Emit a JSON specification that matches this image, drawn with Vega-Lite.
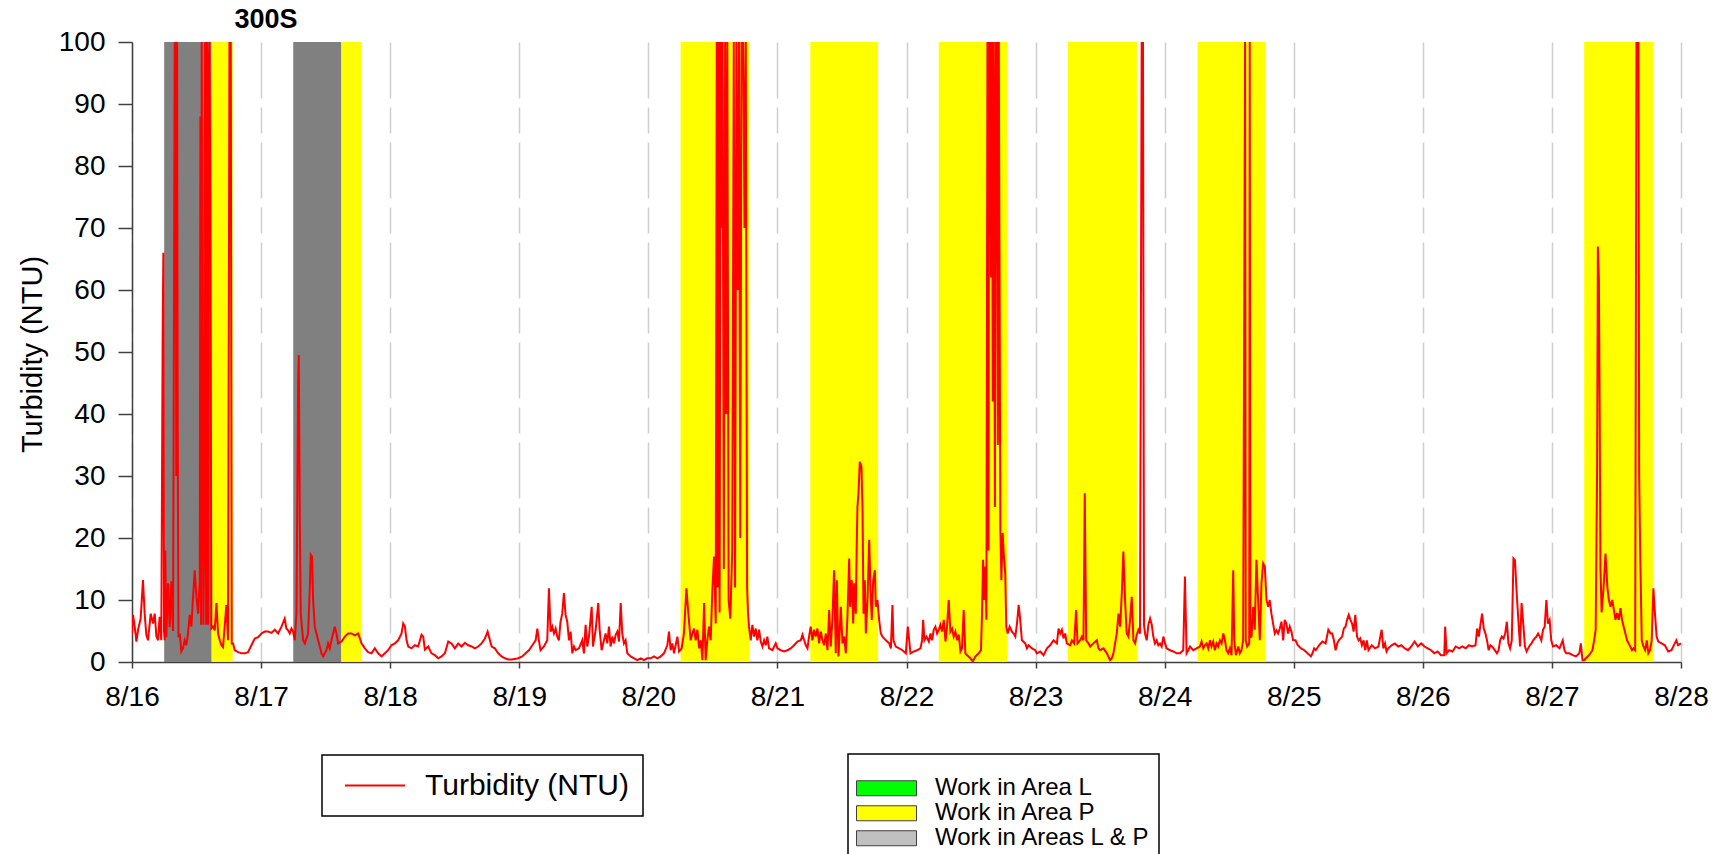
{
  "$schema": "https://vega.github.io/schema/vega-lite/v6.json",
  "width": 1549,
  "height": 620,
  "autosize": "none",
  "padding": {"left": 132, "top": 42, "right": 41, "bottom": 192},
  "background": "white",
  "config": {"font": "Liberation Sans", "view": {"stroke": null}},
  "title": {"text": "300S", "anchor": "start", "align": "center", "dx": 134, "dy": 11, "frame": "group", "fontSize": 27, "fontWeight": "bold", "color": "black", "offset": 5, "font": "Liberation Sans"},
  "datasets": {
    "bands": [
      {"start": 0.25, "end": 0.615, "area": "Work in Areas L & P"},
      {"start": 0.615, "end": 0.78, "area": "Work in Area P"},
      {"start": 1.25, "end": 1.62, "area": "Work in Areas L & P"},
      {"start": 1.62, "end": 1.78, "area": "Work in Area P"},
      {"start": 4.25, "end": 4.78, "area": "Work in Area P"},
      {"start": 5.255, "end": 5.78, "area": "Work in Area P"},
      {"start": 6.25, "end": 6.78, "area": "Work in Area P"},
      {"start": 7.25, "end": 7.785, "area": "Work in Area P"},
      {"start": 8.255, "end": 8.782, "area": "Work in Area P"},
      {"start": 11.25, "end": 11.783, "area": "Work in Area P"}
    ]
  },
  "layer": [
    {
      "data": {"name": "bands"},
      "mark": {"type": "rect"},
      "encoding": {
        "x": {"field": "start", "type": "quantitative", "scale": {"domain": [0, 12], "nice": false, "zero": false},
          "axis": {"title": null, "values": [0,1,2,3,4,5,6,7,8,9,10,11,12], "labelExpr": "'8/' + (16 + datum.value)", "grid": true, "gridDash": [56, 9, 26, 9], "gridColor": "#cfcfcf", "gridWidth": 1.5, "domainColor": "#404040", "domainWidth": 1.5, "tickColor": "#404040", "tickSize": 6, "tickWidth": 1.5, "labelFontSize": 28, "labelColor": "black", "labelPadding": 15, "labelFlush": false, "labelFont": "Liberation Sans"}},
        "x2": {"field": "end"},
        "fill": {"field": "area", "type": "nominal",
          "scale": {"domain": ["Work in Area L", "Work in Area P", "Work in Areas L & P"], "range": ["#00ff00", "#ffff00", "#c0c0c0"]},
          "legend": {"orient": "none", "legendX": 716, "legendY": 712, "title": " ", "titleFontSize": 15, "titlePadding": 0,
            "symbolType": "M-1,-0.25H1V0.25H-1Z", "symbolSize": 3600, "symbolStrokeColor": "#404040", "symbolStrokeWidth": 1, "symbolOpacity": 1,
            "labelFontSize": 24, "labelColor": "black", "labelOffset": 18, "labelLimit": 600, "labelFont": "Liberation Sans", "padding": 8, "rowPadding": 0, "clipHeight": 22.5,
            "strokeColor": "black", "fillColor": "white",
            "encode": {"legend": {"update": {"strokeWidth": {"value": 1.5}}}}}}
      }
    },
    {
      "data": {"name": "bands"},
      "transform": [{"filter": "datum.area === 'Work in Areas L & P'"}],
      "mark": {"type": "rect", "color": "#808080"},
      "encoding": {
        "x": {"field": "start", "type": "quantitative"},
        "x2": {"field": "end"}
      }
    },
    {
      "data": {"values": [
        {"day":0.000,"ntu":4.6},{"day":0.008,"ntu":7.6},{"day":0.021,"ntu":5.7},{"day":0.034,"ntu":3.3},{"day":0.047,"ntu":5.2},{"day":0.067,"ntu":7.0},{"day":0.085,"ntu":13.2},{"day":0.098,"ntu":7.8},{"day":0.111,"ntu":4.4},{"day":0.124,"ntu":3.5},{"day":0.145,"ntu":7.8},{"day":0.163,"ntu":6.2},{"day":0.176,"ntu":7.8},{"day":0.189,"ntu":4.1},{"day":0.202,"ntu":3.5},{"day":0.214,"ntu":7.3},{"day":0.227,"ntu":3.5},{"day":0.238,"ntu":55},{"day":0.243,"ntu":66},{"day":0.248,"ntu":5},{"day":0.253,"ntu":3.5},{"day":0.258,"ntu":18},{"day":0.266,"ntu":4},{"day":0.279,"ntu":12.7},{"day":0.292,"ntu":5.6},{"day":0.305,"ntu":13},{"day":0.318,"ntu":5},{"day":0.331,"ntu":100},{"day":0.337,"ntu":100},{"day":0.343,"ntu":30},{"day":0.349,"ntu":100},{"day":0.354,"ntu":37},{"day":0.360,"ntu":4},{"day":0.370,"ntu":4.6},{"day":0.382,"ntu":1.7},{"day":0.395,"ntu":2.2},{"day":0.408,"ntu":3.5},{"day":0.421,"ntu":2.7},{"day":0.434,"ntu":4.6},{"day":0.447,"ntu":7.6},{"day":0.460,"ntu":5.7},{"day":0.473,"ntu":10.5},{"day":0.486,"ntu":14.8},{"day":0.499,"ntu":10.5},{"day":0.512,"ntu":7.8},{"day":0.525,"ntu":13},{"day":0.530,"ntu":88},{"day":0.535,"ntu":6},{"day":0.540,"ntu":100},{"day":0.545,"ntu":57},{"day":0.553,"ntu":6},{"day":0.558,"ntu":16.5},{"day":0.566,"ntu":100},{"day":0.574,"ntu":6},{"day":0.581,"ntu":100},{"day":0.589,"ntu":6},{"day":0.594,"ntu":96},{"day":0.600,"ntu":100},{"day":0.607,"ntu":74},{"day":0.615,"ntu":5.4},{"day":0.628,"ntu":5.7},{"day":0.641,"ntu":5.1},{"day":0.654,"ntu":9.5},{"day":0.667,"ntu":4.6},{"day":0.680,"ntu":3.5},{"day":0.693,"ntu":2.7},{"day":0.705,"ntu":2.4},{"day":0.718,"ntu":5.7},{"day":0.731,"ntu":9.2},{"day":0.744,"ntu":3.5},{"day":0.755,"ntu":100},{"day":0.765,"ntu":100},{"day":0.773,"ntu":3},{"day":0.783,"ntu":3},{"day":0.796,"ntu":1.9},{"day":0.822,"ntu":1.6},{"day":0.848,"ntu":1.4},{"day":0.873,"ntu":1.4},{"day":0.899,"ntu":1.6},{"day":0.925,"ntu":2.7},{"day":0.951,"ntu":3.8},{"day":0.977,"ntu":4.0},
        {"day":1.003,"ntu":4.6},{"day":1.028,"ntu":4.9},{"day":1.054,"ntu":4.9},{"day":1.080,"ntu":4.7},{"day":1.106,"ntu":5.2},{"day":1.132,"ntu":4.6},{"day":1.158,"ntu":5.7},{"day":1.183,"ntu":7.0},{"day":1.196,"ntu":5.4},{"day":1.209,"ntu":5.1},{"day":1.222,"ntu":4.6},{"day":1.235,"ntu":5.4},{"day":1.248,"ntu":4.9},{"day":1.261,"ntu":3.5},{"day":1.274,"ntu":7.8},{"day":1.287,"ntu":45},{"day":1.292,"ntu":49.5},{"day":1.300,"ntu":23},{"day":1.307,"ntu":7.8},{"day":1.326,"ntu":3.5},{"day":1.339,"ntu":3.0},{"day":1.364,"ntu":4.6},{"day":1.377,"ntu":11.6},{"day":1.385,"ntu":17.3},{"day":1.395,"ntu":17},{"day":1.403,"ntu":10},{"day":1.416,"ntu":5.7},{"day":1.429,"ntu":4.6},{"day":1.442,"ntu":3.5},{"day":1.455,"ntu":2.5},{"day":1.468,"ntu":1.4},{"day":1.481,"ntu":0.9},{"day":1.494,"ntu":1.4},{"day":1.506,"ntu":1.9},{"day":1.519,"ntu":3.0},{"day":1.532,"ntu":2.2},{"day":1.545,"ntu":3.5},{"day":1.558,"ntu":4.6},{"day":1.571,"ntu":5.7},{"day":1.584,"ntu":4.6},{"day":1.597,"ntu":3.0},{"day":1.623,"ntu":3.3},{"day":1.649,"ntu":4.1},{"day":1.674,"ntu":4.6},{"day":1.700,"ntu":4.6},{"day":1.726,"ntu":4.3},{"day":1.752,"ntu":4.6},{"day":1.778,"ntu":3.0},{"day":1.804,"ntu":2.2},{"day":1.829,"ntu":1.6},{"day":1.855,"ntu":1.4},{"day":1.881,"ntu":2.2},{"day":1.907,"ntu":1.4},{"day":1.933,"ntu":0.9},{"day":1.959,"ntu":1.4},{"day":1.984,"ntu":1.9},
        {"day":2.010,"ntu":2.7},{"day":2.036,"ntu":3.0},{"day":2.062,"ntu":3.5},{"day":2.088,"ntu":4.6},{"day":2.101,"ntu":6.2},{"day":2.114,"ntu":5.7},{"day":2.127,"ntu":3.5},{"day":2.140,"ntu":2.5},{"day":2.165,"ntu":2.2},{"day":2.191,"ntu":2.7},{"day":2.217,"ntu":2.5},{"day":2.243,"ntu":4.4},{"day":2.256,"ntu":4.1},{"day":2.269,"ntu":2.0},{"day":2.295,"ntu":2.5},{"day":2.320,"ntu":1.4},{"day":2.346,"ntu":1.1},{"day":2.372,"ntu":0.6},{"day":2.398,"ntu":0.9},{"day":2.424,"ntu":1.4},{"day":2.450,"ntu":3.3},{"day":2.475,"ntu":3.0},{"day":2.501,"ntu":2.2},{"day":2.527,"ntu":3.0},{"day":2.553,"ntu":2.5},{"day":2.579,"ntu":3.1},{"day":2.605,"ntu":2.7},{"day":2.630,"ntu":2.5},{"day":2.656,"ntu":2.2},{"day":2.682,"ntu":2.5},{"day":2.708,"ntu":3.0},{"day":2.734,"ntu":3.8},{"day":2.755,"ntu":4.9},{"day":2.773,"ntu":3.5},{"day":2.786,"ntu":2.5},{"day":2.811,"ntu":2.2},{"day":2.837,"ntu":1.4},{"day":2.863,"ntu":0.9},{"day":2.889,"ntu":0.6},{"day":2.915,"ntu":0.4},{"day":2.941,"ntu":0.4},{"day":2.966,"ntu":0.5},{"day":2.992,"ntu":0.6},
        {"day":3.023,"ntu":0.9},{"day":3.049,"ntu":1.4},{"day":3.075,"ntu":1.9},{"day":3.101,"ntu":2.7},{"day":3.127,"ntu":3.5},{"day":3.140,"ntu":5.4},{"day":3.152,"ntu":3.5},{"day":3.165,"ntu":1.9},{"day":3.191,"ntu":2.5},{"day":3.217,"ntu":3.5},{"day":3.230,"ntu":11.9},{"day":3.243,"ntu":4.9},{"day":3.256,"ntu":5.7},{"day":3.269,"ntu":4.6},{"day":3.282,"ntu":5.4},{"day":3.295,"ntu":4.1},{"day":3.307,"ntu":3.5},{"day":3.320,"ntu":6.5},{"day":3.333,"ntu":7.8},{"day":3.346,"ntu":11.1},{"day":3.359,"ntu":7.6},{"day":3.372,"ntu":6.5},{"day":3.385,"ntu":3.5},{"day":3.398,"ntu":4.9},{"day":3.411,"ntu":1.4},{"day":3.424,"ntu":2.5},{"day":3.437,"ntu":1.9},{"day":3.463,"ntu":2.2},{"day":3.488,"ntu":3.5},{"day":3.501,"ntu":1.4},{"day":3.514,"ntu":6.0},{"day":3.527,"ntu":2.5},{"day":3.540,"ntu":4.1},{"day":3.561,"ntu":8.9},{"day":3.571,"ntu":2.5},{"day":3.592,"ntu":5.2},{"day":3.612,"ntu":9.5},{"day":3.623,"ntu":5.2},{"day":3.638,"ntu":1.9},{"day":3.656,"ntu":3.5},{"day":3.669,"ntu":4.6},{"day":3.682,"ntu":3.0},{"day":3.695,"ntu":5.7},{"day":3.708,"ntu":2.5},{"day":3.721,"ntu":4.1},{"day":3.734,"ntu":3.0},{"day":3.747,"ntu":4.4},{"day":3.760,"ntu":4.9},{"day":3.773,"ntu":3.3},{"day":3.786,"ntu":9.5},{"day":3.798,"ntu":4.6},{"day":3.811,"ntu":3.0},{"day":3.824,"ntu":3.5},{"day":3.837,"ntu":1.4},{"day":3.863,"ntu":0.9},{"day":3.889,"ntu":0.6},{"day":3.915,"ntu":0.3},{"day":3.941,"ntu":0.6},{"day":3.966,"ntu":0.3},{"day":3.992,"ntu":0.6},
        {"day":4.018,"ntu":0.6},{"day":4.044,"ntu":0.9},{"day":4.070,"ntu":0.6},{"day":4.096,"ntu":0.9},{"day":4.121,"ntu":1.4},{"day":4.147,"ntu":2.7},{"day":4.160,"ntu":4.9},{"day":4.173,"ntu":1.9},{"day":4.186,"ntu":3.0},{"day":4.199,"ntu":1.4},{"day":4.225,"ntu":4.1},{"day":4.238,"ntu":1.7},{"day":4.258,"ntu":2.2},{"day":4.276,"ntu":4.6},{"day":4.295,"ntu":11.9},{"day":4.310,"ntu":7.8},{"day":4.328,"ntu":3.5},{"day":4.341,"ntu":4.6},{"day":4.354,"ntu":5.4},{"day":4.367,"ntu":3.5},{"day":4.380,"ntu":5.2},{"day":4.393,"ntu":2.2},{"day":4.406,"ntu":3.5},{"day":4.419,"ntu":0.3},{"day":4.432,"ntu":9.5},{"day":4.444,"ntu":0.3},{"day":4.457,"ntu":3.5},{"day":4.470,"ntu":5.7},{"day":4.483,"ntu":3.5},{"day":4.496,"ntu":11.6},{"day":4.509,"ntu":17},{"day":4.522,"ntu":6.2},{"day":4.530,"ntu":100},{"day":4.537,"ntu":12},{"day":4.545,"ntu":100},{"day":4.552,"ntu":8},{"day":4.560,"ntu":100},{"day":4.567,"ntu":70},{"day":4.575,"ntu":100},{"day":4.585,"ntu":15},{"day":4.595,"ntu":100},{"day":4.603,"ntu":40},{"day":4.612,"ntu":100},{"day":4.622,"ntu":10},{"day":4.635,"ntu":7},{"day":4.650,"ntu":18},{"day":4.662,"ntu":100},{"day":4.672,"ntu":12},{"day":4.682,"ntu":100},{"day":4.692,"ntu":60},{"day":4.702,"ntu":100},{"day":4.712,"ntu":20},{"day":4.722,"ntu":100},{"day":4.735,"ntu":100},{"day":4.745,"ntu":70},{"day":4.755,"ntu":100},{"day":4.765,"ntu":12},{"day":4.772,"ntu":8},{"day":4.780,"ntu":5.7},{"day":4.793,"ntu":3.5},{"day":4.806,"ntu":6.0},{"day":4.819,"ntu":4.1},{"day":4.832,"ntu":5.4},{"day":4.845,"ntu":3.5},{"day":4.858,"ntu":5.2},{"day":4.871,"ntu":3.3},{"day":4.884,"ntu":2.5},{"day":4.897,"ntu":3.5},{"day":4.910,"ntu":2.7},{"day":4.922,"ntu":4.1},{"day":4.935,"ntu":2.2},{"day":4.961,"ntu":1.9},{"day":4.987,"ntu":3.0},
        {"day":5.000,"ntu":2.2},{"day":5.026,"ntu":1.9},{"day":5.052,"ntu":1.7},{"day":5.078,"ntu":1.9},{"day":5.103,"ntu":2.2},{"day":5.129,"ntu":2.7},{"day":5.155,"ntu":3.3},{"day":5.181,"ntu":3.5},{"day":5.194,"ntu":4.4},{"day":5.207,"ntu":3.5},{"day":5.220,"ntu":2.7},{"day":5.233,"ntu":2.2},{"day":5.245,"ntu":4.1},{"day":5.258,"ntu":5.7},{"day":5.271,"ntu":3.5},{"day":5.284,"ntu":5.2},{"day":5.297,"ntu":4.1},{"day":5.310,"ntu":5.4},{"day":5.323,"ntu":3.0},{"day":5.336,"ntu":4.9},{"day":5.349,"ntu":3.5},{"day":5.362,"ntu":2.7},{"day":5.375,"ntu":4.6},{"day":5.388,"ntu":1.9},{"day":5.401,"ntu":8.4},{"day":5.413,"ntu":2.5},{"day":5.426,"ntu":6.8},{"day":5.439,"ntu":14.8},{"day":5.452,"ntu":1.4},{"day":5.460,"ntu":13.2},{"day":5.473,"ntu":0.9},{"day":5.483,"ntu":5.2},{"day":5.491,"ntu":8.9},{"day":5.504,"ntu":3.0},{"day":5.517,"ntu":4.1},{"day":5.530,"ntu":1.4},{"day":5.543,"ntu":7.6},{"day":5.556,"ntu":16.7},{"day":5.563,"ntu":8.9},{"day":5.576,"ntu":13.2},{"day":5.587,"ntu":6.2},{"day":5.594,"ntu":12.7},{"day":5.607,"ntu":7.8},{"day":5.615,"ntu":19.7},{"day":5.620,"ntu":25},{"day":5.628,"ntu":27.2},{"day":5.638,"ntu":32.3},{"day":5.651,"ntu":31.5},{"day":5.659,"ntu":25},{"day":5.667,"ntu":7.8},{"day":5.677,"ntu":13.2},{"day":5.685,"ntu":4.6},{"day":5.698,"ntu":10},{"day":5.711,"ntu":19.7},{"day":5.721,"ntu":11.6},{"day":5.731,"ntu":6.8},{"day":5.742,"ntu":13.2},{"day":5.755,"ntu":14.8},{"day":5.762,"ntu":8.9},{"day":5.775,"ntu":10},{"day":5.788,"ntu":6.8},{"day":5.801,"ntu":4.6},{"day":5.814,"ntu":4.1},{"day":5.840,"ntu":3.5},{"day":5.866,"ntu":3.0},{"day":5.879,"ntu":2.2},{"day":5.891,"ntu":9.2},{"day":5.899,"ntu":3.5},{"day":5.917,"ntu":2.5},{"day":5.943,"ntu":2.2},{"day":5.969,"ntu":1.9},{"day":5.995,"ntu":1.4},
        {"day":6.010,"ntu":5.7},{"day":6.021,"ntu":3.5},{"day":6.031,"ntu":1.4},{"day":6.057,"ntu":1.7},{"day":6.082,"ntu":1.9},{"day":6.108,"ntu":2.2},{"day":6.121,"ntu":3.5},{"day":6.129,"ntu":6.8},{"day":6.139,"ntu":3.5},{"day":6.155,"ntu":4.1},{"day":6.173,"ntu":3.3},{"day":6.186,"ntu":4.6},{"day":6.198,"ntu":3.5},{"day":6.211,"ntu":5.2},{"day":6.224,"ntu":5.7},{"day":6.237,"ntu":4.6},{"day":6.250,"ntu":5.2},{"day":6.263,"ntu":6.0},{"day":6.276,"ntu":4.9},{"day":6.289,"ntu":6.8},{"day":6.302,"ntu":3.3},{"day":6.314,"ntu":5.7},{"day":6.327,"ntu":10},{"day":6.340,"ntu":4.9},{"day":6.353,"ntu":5.4},{"day":6.366,"ntu":4.1},{"day":6.379,"ntu":4.9},{"day":6.392,"ntu":3.5},{"day":6.405,"ntu":4.4},{"day":6.418,"ntu":1.7},{"day":6.430,"ntu":2.2},{"day":6.443,"ntu":8.4},{"day":6.456,"ntu":1.4},{"day":6.469,"ntu":1.1},{"day":6.495,"ntu":0.6},{"day":6.513,"ntu":0.1},{"day":6.534,"ntu":0.9},{"day":6.559,"ntu":1.4},{"day":6.577,"ntu":1.9},{"day":6.585,"ntu":7.8},{"day":6.593,"ntu":16.5},{"day":6.603,"ntu":10},{"day":6.611,"ntu":15.4},{"day":6.619,"ntu":6.8},{"day":6.627,"ntu":100},{"day":6.635,"ntu":18},{"day":6.640,"ntu":100},{"day":6.648,"ntu":100},{"day":6.655,"ntu":62},{"day":6.662,"ntu":100},{"day":6.668,"ntu":42},{"day":6.675,"ntu":100},{"day":6.685,"ntu":25},{"day":6.692,"ntu":100},{"day":6.700,"ntu":100},{"day":6.708,"ntu":35},{"day":6.715,"ntu":100},{"day":6.727,"ntu":21.6},{"day":6.735,"ntu":13.2},{"day":6.745,"ntu":20.8},{"day":6.753,"ntu":17.5},{"day":6.765,"ntu":14.3},{"day":6.773,"ntu":5.7},{"day":6.784,"ntu":4.6},{"day":6.799,"ntu":5.7},{"day":6.817,"ntu":4.9},{"day":6.830,"ntu":4.6},{"day":6.843,"ntu":4.1},{"day":6.856,"ntu":6.2},{"day":6.869,"ntu":9.2},{"day":6.881,"ntu":6.8},{"day":6.894,"ntu":3.5},{"day":6.920,"ntu":3.0},{"day":6.933,"ntu":2.2},{"day":6.946,"ntu":2.7},{"day":6.972,"ntu":2.2},{"day":6.997,"ntu":1.9},
        {"day":7.010,"ntu":1.4},{"day":7.036,"ntu":1.7},{"day":7.062,"ntu":1.1},{"day":7.088,"ntu":2.2},{"day":7.113,"ntu":2.7},{"day":7.139,"ntu":3.5},{"day":7.165,"ntu":3.0},{"day":7.178,"ntu":5.4},{"day":7.191,"ntu":4.6},{"day":7.204,"ntu":5.2},{"day":7.216,"ntu":3.8},{"day":7.229,"ntu":4.6},{"day":7.242,"ntu":3.0},{"day":7.268,"ntu":2.7},{"day":7.281,"ntu":3.5},{"day":7.299,"ntu":3.0},{"day":7.314,"ntu":8.4},{"day":7.325,"ntu":3.0},{"day":7.345,"ntu":3.5},{"day":7.358,"ntu":4.1},{"day":7.371,"ntu":3.5},{"day":7.381,"ntu":27.2},{"day":7.392,"ntu":3.5},{"day":7.410,"ntu":3.0},{"day":7.423,"ntu":2.5},{"day":7.448,"ntu":3.0},{"day":7.474,"ntu":3.5},{"day":7.487,"ntu":2.2},{"day":7.500,"ntu":1.9},{"day":7.526,"ntu":2.2},{"day":7.552,"ntu":1.4},{"day":7.577,"ntu":0.3},{"day":7.590,"ntu":0.6},{"day":7.603,"ntu":1.4},{"day":7.616,"ntu":3.0},{"day":7.629,"ntu":4.6},{"day":7.642,"ntu":7.8},{"day":7.655,"ntu":5.7},{"day":7.668,"ntu":11.1},{"day":7.680,"ntu":17.8},{"day":7.693,"ntu":10},{"day":7.706,"ntu":4.6},{"day":7.719,"ntu":4.1},{"day":7.732,"ntu":6.8},{"day":7.745,"ntu":10.5},{"day":7.758,"ntu":3.5},{"day":7.771,"ntu":3.0},{"day":7.784,"ntu":4.4},{"day":7.796,"ntu":5.2},{"day":7.809,"ntu":4.6},{"day":7.822,"ntu":100},{"day":7.832,"ntu":100},{"day":7.840,"ntu":6},{"day":7.848,"ntu":4.6},{"day":7.861,"ntu":3.5},{"day":7.874,"ntu":6.0},{"day":7.887,"ntu":7.0},{"day":7.900,"ntu":6.0},{"day":7.912,"ntu":4.1},{"day":7.925,"ntu":3.0},{"day":7.938,"ntu":3.5},{"day":7.951,"ntu":2.7},{"day":7.964,"ntu":3.0},{"day":7.977,"ntu":2.5},{"day":7.990,"ntu":4.1},
        {"day":8.003,"ntu":3.0},{"day":8.015,"ntu":2.2},{"day":8.041,"ntu":1.9},{"day":8.067,"ntu":1.7},{"day":8.093,"ntu":1.4},{"day":8.119,"ntu":1.4},{"day":8.144,"ntu":1.9},{"day":8.157,"ntu":13.8},{"day":8.170,"ntu":1.4},{"day":8.183,"ntu":1.9},{"day":8.196,"ntu":2.5},{"day":8.222,"ntu":1.9},{"day":8.247,"ntu":2.2},{"day":8.273,"ntu":2.5},{"day":8.286,"ntu":3.3},{"day":8.299,"ntu":2.2},{"day":8.312,"ntu":2.7},{"day":8.325,"ntu":3.0},{"day":8.338,"ntu":2.2},{"day":8.351,"ntu":3.5},{"day":8.363,"ntu":2.5},{"day":8.376,"ntu":3.3},{"day":8.389,"ntu":1.9},{"day":8.402,"ntu":3.0},{"day":8.415,"ntu":2.5},{"day":8.428,"ntu":3.5},{"day":8.441,"ntu":3.0},{"day":8.454,"ntu":4.6},{"day":8.467,"ntu":3.5},{"day":8.479,"ntu":1.9},{"day":8.492,"ntu":1.4},{"day":8.505,"ntu":2.2},{"day":8.518,"ntu":1.1},{"day":8.531,"ntu":14.8},{"day":8.539,"ntu":3.5},{"day":8.552,"ntu":1.1},{"day":8.570,"ntu":2.5},{"day":8.582,"ntu":1.4},{"day":8.595,"ntu":1.9},{"day":8.608,"ntu":3.5},{"day":8.623,"ntu":100},{"day":8.628,"ntu":3.5},{"day":8.639,"ntu":2.5},{"day":8.655,"ntu":3.0},{"day":8.659,"ntu":100},{"day":8.664,"ntu":4},{"day":8.673,"ntu":4.1},{"day":8.686,"ntu":8.9},{"day":8.698,"ntu":5.2},{"day":8.711,"ntu":16.5},{"day":8.724,"ntu":10},{"day":8.737,"ntu":3.5},{"day":8.750,"ntu":12.7},{"day":8.763,"ntu":15.9},{"day":8.776,"ntu":15.4},{"day":8.789,"ntu":10},{"day":8.802,"ntu":8.9},{"day":8.814,"ntu":10},{"day":8.827,"ntu":7.8},{"day":8.840,"ntu":6.2},{"day":8.853,"ntu":4.6},{"day":8.866,"ntu":5.1},{"day":8.879,"ntu":4.6},{"day":8.892,"ntu":5.4},{"day":8.905,"ntu":6.5},{"day":8.918,"ntu":3.5},{"day":8.930,"ntu":6.8},{"day":8.943,"ntu":6.2},{"day":8.956,"ntu":4.6},{"day":8.969,"ntu":5.7},{"day":8.982,"ntu":4.9},{"day":8.995,"ntu":3.5},
        {"day":9.013,"ntu":3.5},{"day":9.031,"ntu":2.7},{"day":9.056,"ntu":2.2},{"day":9.082,"ntu":1.9},{"day":9.107,"ntu":1.4},{"day":9.133,"ntu":0.9},{"day":9.145,"ntu":1.4},{"day":9.158,"ntu":2.2},{"day":9.171,"ntu":1.9},{"day":9.196,"ntu":2.7},{"day":9.222,"ntu":3.3},{"day":9.247,"ntu":3.0},{"day":9.268,"ntu":5.2},{"day":9.286,"ntu":4.6},{"day":9.298,"ntu":4.6},{"day":9.311,"ntu":3.5},{"day":9.324,"ntu":1.9},{"day":9.337,"ntu":3.0},{"day":9.349,"ntu":3.5},{"day":9.375,"ntu":4.1},{"day":9.388,"ntu":5.4},{"day":9.401,"ntu":5.7},{"day":9.413,"ntu":6.8},{"day":9.426,"ntu":7.6},{"day":9.439,"ntu":6.8},{"day":9.452,"ntu":6.2},{"day":9.464,"ntu":4.9},{"day":9.477,"ntu":7.6},{"day":9.490,"ntu":4.1},{"day":9.503,"ntu":3.5},{"day":9.515,"ntu":3.8},{"day":9.528,"ntu":2.7},{"day":9.541,"ntu":3.5},{"day":9.554,"ntu":1.9},{"day":9.566,"ntu":3.5},{"day":9.579,"ntu":1.9},{"day":9.605,"ntu":2.7},{"day":9.630,"ntu":2.2},{"day":9.656,"ntu":2.5},{"day":9.681,"ntu":5.2},{"day":9.694,"ntu":2.2},{"day":9.707,"ntu":3.0},{"day":9.719,"ntu":1.7},{"day":9.732,"ntu":2.2},{"day":9.758,"ntu":2.7},{"day":9.783,"ntu":3.0},{"day":9.809,"ntu":2.5},{"day":9.834,"ntu":2.7},{"day":9.860,"ntu":2.2},{"day":9.885,"ntu":1.9},{"day":9.911,"ntu":2.5},{"day":9.936,"ntu":3.3},{"day":9.962,"ntu":2.5},{"day":9.987,"ntu":3.0},
        {"day":10.013,"ntu":2.5},{"day":10.038,"ntu":2.2},{"day":10.064,"ntu":1.9},{"day":10.089,"ntu":1.4},{"day":10.115,"ntu":1.7},{"day":10.140,"ntu":1.1},{"day":10.166,"ntu":1.1},{"day":10.173,"ntu":5.7},{"day":10.184,"ntu":1.4},{"day":10.204,"ntu":1.9},{"day":10.230,"ntu":1.7},{"day":10.255,"ntu":2.5},{"day":10.281,"ntu":2.2},{"day":10.306,"ntu":2.5},{"day":10.332,"ntu":2.2},{"day":10.357,"ntu":2.7},{"day":10.383,"ntu":2.5},{"day":10.408,"ntu":2.7},{"day":10.421,"ntu":5.4},{"day":10.434,"ntu":4.1},{"day":10.446,"ntu":6.0},{"day":10.459,"ntu":7.8},{"day":10.472,"ntu":5.4},{"day":10.485,"ntu":4.6},{"day":10.497,"ntu":3.5},{"day":10.510,"ntu":1.9},{"day":10.523,"ntu":2.7},{"day":10.536,"ntu":2.5},{"day":10.548,"ntu":2.2},{"day":10.574,"ntu":1.4},{"day":10.587,"ntu":1.9},{"day":10.599,"ntu":3.5},{"day":10.612,"ntu":4.1},{"day":10.625,"ntu":3.8},{"day":10.638,"ntu":4.6},{"day":10.651,"ntu":6.5},{"day":10.663,"ntu":3.0},{"day":10.676,"ntu":2.2},{"day":10.689,"ntu":3.5},{"day":10.702,"ntu":16.7},{"day":10.714,"ntu":16.4},{"day":10.727,"ntu":11.1},{"day":10.740,"ntu":6.8},{"day":10.753,"ntu":2.5},{"day":10.765,"ntu":9.5},{"day":10.778,"ntu":6.2},{"day":10.791,"ntu":2.5},{"day":10.804,"ntu":1.7},{"day":10.816,"ntu":2.2},{"day":10.829,"ntu":2.7},{"day":10.842,"ntu":3.0},{"day":10.855,"ntu":3.5},{"day":10.867,"ntu":3.8},{"day":10.880,"ntu":4.1},{"day":10.893,"ntu":4.6},{"day":10.906,"ntu":4.1},{"day":10.918,"ntu":3.5},{"day":10.931,"ntu":5.2},{"day":10.944,"ntu":5.7},{"day":10.957,"ntu":10},{"day":10.969,"ntu":6.2},{"day":10.982,"ntu":6.8},{"day":10.995,"ntu":3.5},
        {"day":11.008,"ntu":2.5},{"day":11.033,"ntu":2.7},{"day":11.059,"ntu":2.2},{"day":11.084,"ntu":3.5},{"day":11.097,"ntu":1.9},{"day":11.110,"ntu":1.4},{"day":11.135,"ntu":1.4},{"day":11.161,"ntu":1.1},{"day":11.186,"ntu":0.9},{"day":11.212,"ntu":1.4},{"day":11.224,"ntu":3.0},{"day":11.237,"ntu":0.3},{"day":11.250,"ntu":0.3},{"day":11.263,"ntu":0.6},{"day":11.288,"ntu":1.1},{"day":11.314,"ntu":1.9},{"day":11.327,"ntu":3.5},{"day":11.339,"ntu":5.2},{"day":11.350,"ntu":31},{"day":11.356,"ntu":67},{"day":11.364,"ntu":61.5},{"day":11.370,"ntu":40},{"day":11.376,"ntu":15},{"day":11.385,"ntu":8},{"day":11.400,"ntu":12},{"day":11.415,"ntu":17.5},{"day":11.429,"ntu":12.2},{"day":11.441,"ntu":10},{"day":11.454,"ntu":8.9},{"day":11.467,"ntu":10},{"day":11.480,"ntu":8.4},{"day":11.492,"ntu":6.8},{"day":11.505,"ntu":7.9},{"day":11.518,"ntu":6.8},{"day":11.531,"ntu":8.7},{"day":11.543,"ntu":6.8},{"day":11.556,"ntu":5.7},{"day":11.569,"ntu":4.6},{"day":11.582,"ntu":3.5},{"day":11.594,"ntu":3.0},{"day":11.607,"ntu":2.5},{"day":11.620,"ntu":1.9},{"day":11.633,"ntu":2.2},{"day":11.645,"ntu":1.9},{"day":11.655,"ntu":100},{"day":11.662,"ntu":100},{"day":11.670,"ntu":100},{"day":11.676,"ntu":30},{"day":11.684,"ntu":17.5},{"day":11.696,"ntu":3.5},{"day":11.709,"ntu":2.5},{"day":11.722,"ntu":1.9},{"day":11.735,"ntu":3.5},{"day":11.747,"ntu":1.4},{"day":11.760,"ntu":1.9},{"day":11.773,"ntu":3.5},{"day":11.786,"ntu":11.9},{"day":11.798,"ntu":7.9},{"day":11.811,"ntu":4.1},{"day":11.824,"ntu":3.3},{"day":11.850,"ntu":3.0},{"day":11.875,"ntu":2.7},{"day":11.901,"ntu":1.7},{"day":11.926,"ntu":1.9},{"day":11.952,"ntu":3.0},{"day":11.964,"ntu":3.5},{"day":11.977,"ntu":2.7},{"day":12.000,"ntu":3.0}
      ]},
      "mark": {"type": "line", "strokeWidth": 2, "clip": true},
      "encoding": {
        "x": {"field": "day", "type": "quantitative"},
        "y": {"field": "ntu", "type": "quantitative", "scale": {"domain": [0, 100], "nice": false},
          "axis": {"title": "Turbidity (NTU)", "values": [0,10,20,30,40,50,60,70,80,90,100], "grid": false, "tickSize": 14, "tickWidth": 1.5, "tickColor": "#404040", "domainColor": "#404040", "domainWidth": 1.5, "labelFontSize": 28, "labelColor": "black", "labelPadding": 13, "labelFont": "Liberation Sans", "titleFontSize": 29, "titleFontWeight": "normal", "titleColor": "black", "titleFont": "Liberation Sans", "titleAngle": -90, "titleX": -100, "titleY": 312, "titleAlign": "center", "titleBaseline": "middle"}},
        "stroke": {"datum": "Turbidity (NTU)", "type": "nominal", "scale": {"range": ["#ff0000"]},
          "legend": {"orient": "none", "legendX": 190, "legendY": 713, "title": null, "symbolType": "stroke", "symbolSize": 3600, "symbolStrokeWidth": 2,
            "labelFontSize": 30, "labelColor": "black", "labelFont": "Liberation Sans", "labelOffset": 19, "labelLimit": 600, "symbolOffset": 8, "padding": 14, "clipHeight": 33,
            "strokeColor": "black", "fillColor": "white",
            "encode": {"legend": {"update": {"strokeWidth": {"value": 1.5}}}}}}
      }
    },
    {
      "mark": {"type": "rule", "color": "#555555", "strokeWidth": 1.5},
      "encoding": {"y": {"datum": 100}}
    }
  ]
}
